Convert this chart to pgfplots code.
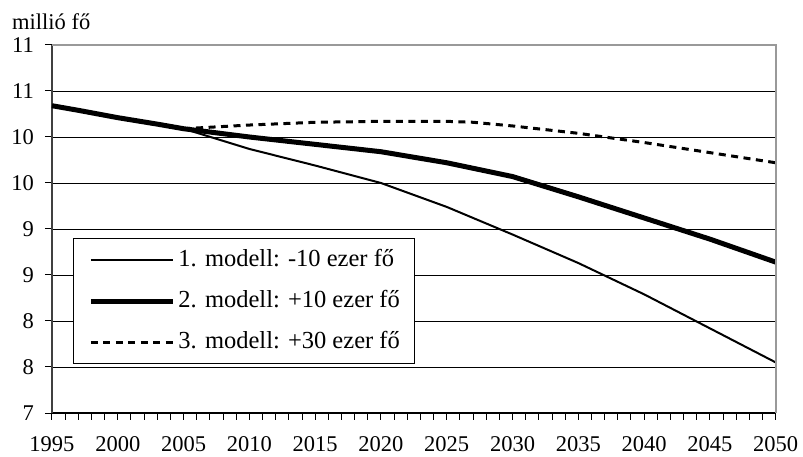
\documentclass[border=0pt]{standalone}
\usepackage{fontspec}
\setmainfont{Liberation Serif}
\usepackage{pgfplots}
\pgfplotsset{compat=1.18}
\begin{document}
\begin{tikzpicture}[font=\fontsize{22.5bp}{27bp}\selectfont]
\path[use as bounding box] (-52bp,-44bp) rectangle (751bp,413bp);
\begin{axis}[
  at={(0,0)}, anchor=south west, scale only axis,
  width=723.7bp, height=368bp,
  xmin=1995, xmax=2050, ymin=7, ymax=11,
  axis x line*=bottom, axis y line*=left,
  x axis line style={black, line width=1.2bp},
  y axis line style={black!75, line width=1.3bp},
  xtick={1995,2000,2005,2010,2015,2020,2025,2030,2035,2040,2045,2050},
  xticklabels={1995,2000,2005,2010,2015,2020,2025,2030,2035,2040,2045,2050},
  minor x tick num=4,
  ytick={7,7.5,8,8.5,9,9.5,10,10.5,11},
  yticklabels={7,8,8,9,9,10,10,11,11},
  xtick align=outside, ytick align=outside,
  major tick length=7bp, minor tick length=7bp,
  tick style={black, line width=1bp},
  xticklabel style={anchor=north, inner sep=0pt, text height=15.2bp, text depth=0pt, yshift=-15.8bp},
  yticklabel style={anchor=east, inner sep=0pt, xshift=-11bp},
  ymajorgrids, grid style={black, line width=0.8bp},
  clip=false,
  legend cell align=left,
  legend image code/.code={\draw[#1] (0bp,0bp) -- (82bp,0bp);},
  legend style={at={(0.029,0.4755)}, anchor=north west, draw=black, line width=1bp,
    fill=white, font=\fontsize{24.5bp}{29bp}\selectfont,
    inner xsep=15bp, inner ysep=10.5bp, row sep=19bp, column sep=3bp,
    nodes={inner sep=0pt, text height=17bp, text depth=5bp}},
]
\addplot[black, line width=2bp] coordinates {
(1995,10.34) (1997,10.29) (2000,10.21) (2003,10.14) (2005,10.09)
(2010,9.87) (2015,9.69) (2020,9.50) (2025,9.24) (2030,8.94)
(2035,8.63) (2040,8.29) (2045,7.92) (2050,7.55)};
\addlegendentry{1. modell: -10 ezer fő}
\addplot[black, line width=5bp] coordinates {
(1995,10.34) (1997,10.29) (2000,10.21) (2003,10.14) (2005,10.09)
(2010,10.00) (2015,9.92) (2020,9.84) (2025,9.72) (2030,9.57)
(2035,9.35) (2040,9.12) (2045,8.89) (2050,8.64)};
\addlegendentry{2. modell: +10 ezer fő}
\addplot[black, line width=3bp, dash pattern=on 7bp off 5.5bp] coordinates {
(2005,10.09) (2010,10.13) (2015,10.16) (2020,10.17) (2025,10.17)
(2027,10.16) (2030,10.12) (2035,10.04) (2040,9.94) (2045,9.83) (2050,9.72)};
\addlegendentry{3. modell: +30 ezer fő}
\draw[gray!80, line width=2bp] (rel axis cs:0,1) -- (rel axis cs:1,1) -- (rel axis cs:1,0);
\node[anchor=base west, inner sep=0pt, xshift=-40bp, yshift=15.5bp] at (rel axis cs:0,1) {millió fő};
\end{axis}
\end{tikzpicture}
\end{document}
